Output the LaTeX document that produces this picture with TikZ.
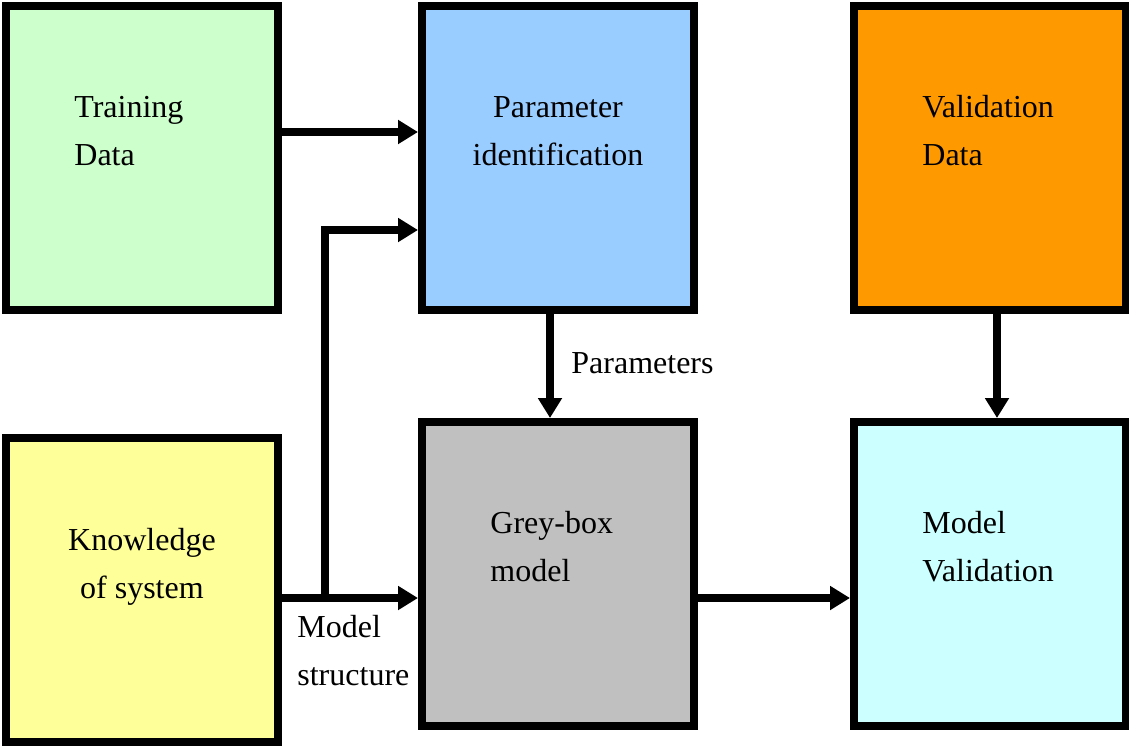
\documentclass[tikz,border=0pt]{standalone}
\usepackage{fontspec}
\setmainfont{Liberation Serif}
\usepackage{tikz}
\usetikzlibrary{arrows.meta,positioning,calc}

\definecolor{trainfill}{HTML}{CCFFCC}
\definecolor{paramfill}{HTML}{99CCFF}
\definecolor{validfill}{HTML}{FF9900}
\definecolor{knowfill}{HTML}{FFFF99}
\definecolor{greyfill}{HTML}{C0C0C0}
\definecolor{mvalfill}{HTML}{CCFFFF}

\tikzset{
  box/.style={draw=black, line width=4pt, minimum width=136pt, minimum height=152pt, inner sep=0pt},
  txt/.style={inner sep=0pt, align=left, font=\fontsize{16}{24}\selectfont},
  arr/.style={line width=3.6pt, -{Triangle[length=10pt,width=11.5pt]}}
}

\begin{document}
\begin{tikzpicture}[x=0.5pt,y=-0.5pt]
  \useasboundingbox (0,0) rectangle (1129,745);
  % boxes
  \node[box, fill=trainfill] (train) at (142,158) {};
  \node[box, fill=paramfill] (param) at (558,158) {};
  \node[box, fill=validfill] (valid) at (990,158) {};
  \node[box, fill=knowfill]  (know)  at (142,590) {};
  \node[box, fill=greyfill]  (grey)  at (558,574) {};
  \node[box, fill=mvalfill]  (mval)  at (990,574) {};
  % texts
  \node[txt, anchor=west] (traintxt) at (74,131) {Training\\Data};
  \node[txt, align=center] (paramtxt) at (558,131) {Parameter\\identification};
  \node[txt, anchor=west] (validtxt) at (922,131) {Validation\\Data};
  \node[txt, align=center] (knowtxt) at (142,567) {Knowledge\\of system};
  \node[txt, anchor=west] (greytxt) at (490,547) {Grey-box\\model};
  \node[txt, anchor=west] (mvaltxt) at (922,547) {Model\\Validation};
  \node[txt, anchor=west] (partxt) at (571,363) {Parameters};
  \node[txt, anchor=west] (structtxt) at (297,651) {Model\\structure};
  % arrows
  \coordinate (split) at (325,598);
  \draw[arr] ([yshift=13pt]train.east) -- ([yshift=13pt]param.west);
  \draw[arr] (know.east |- split) -- (grey.west |- split);
  \draw[arr] (split) |- ([yshift=-36pt]param.west);
  \draw[arr] ([xshift=-4pt]param.south) -- ([xshift=-4pt]grey.north);
  \draw[arr] ([xshift=3.5pt]valid.south) -- ([xshift=3.5pt]mval.north);
  \draw[arr] (grey.east |- split) -- (mval.west |- split);
\end{tikzpicture}
\end{document}
